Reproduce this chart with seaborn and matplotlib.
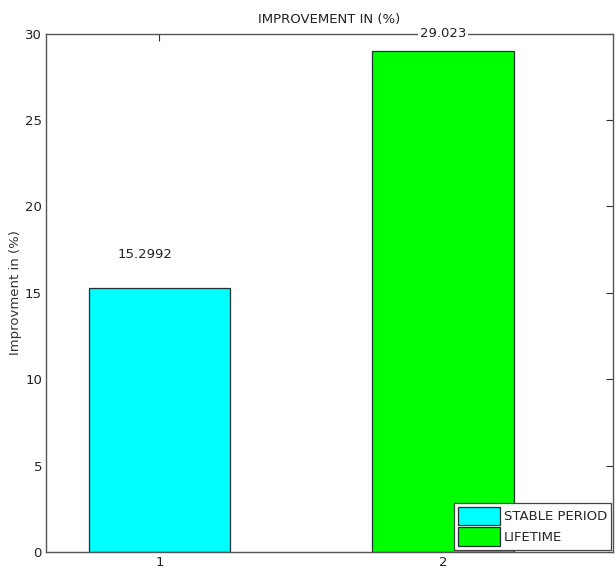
import pandas as pd
import matplotlib
matplotlib.use('Agg')
import matplotlib.pyplot as plt
import seaborn as sns

# values
positions = [1, 2]
series = ['STABLE PERIOD', 'LIFETIME']
improvement = [15.2992, 29.023]
bar_colors = ['#00ffff', '#00ff00']
y_ticks = [0, 5, 10, 15, 20, 25, 30]

df = pd.DataFrame({'pos': positions, 'series': series, 'value': improvement})

sns.set_style('white')
plt.rcParams['font.family'] = ['Liberation Sans Narrow', 'DejaVu Sans']

fig = plt.figure(figsize=(6.15, 5.72), dpi=100)
ax = fig.add_axes([0.075, 0.035, 0.9217, 0.906])

sns.barplot(data=df, x='pos', y='value', hue='series', native_scale=True,
            dodge=False, width=0.5, palette=dict(zip(series, bar_colors)),
            edgecolor='#1f3333', linewidth=0.9, saturation=1, ax=ax)

ax.set_xlim(0.6, 2.6)
ax.set_ylim(0, 30)
ax.set_xticks(positions)
ax.set_xticklabels([str(p) for p in positions])
ax.set_yticks(y_ticks)
ax.tick_params(direction='in', length=5, width=0.8, color='#333333',
               labelsize=9.5, labelcolor='#222222', top=True, right=True, pad=3)
for s in ax.spines.values():
    s.set_color('#555555')
    s.set_linewidth(1.0)

ax.set_xlabel('')
ax.set_ylabel('Improvment in (%)', fontsize=9.5, color='#333333', labelpad=2)
ax.set_title('IMPROVEMENT IN (%)', fontsize=9.5, color='#222222', pad=8)

# value labels
ax.text(0.95, 17.2, f'{improvement[0]:g}', ha='center', va='center', fontsize=9.5, color='#222222')
ax.text(2.0, 30.0, f'{improvement[1]:g}', ha='center', va='center', fontsize=9.5, color='#222222',
        bbox=dict(facecolor='white', edgecolor='none', pad=1.5), clip_on=False, zorder=5)

handles, labels = ax.get_legend_handles_labels()
leg = ax.legend(handles, labels, loc='lower right', fontsize=9.5, frameon=True, fancybox=False,
                framealpha=1, borderaxespad=0.15, handlelength=3.2, handleheight=1.8,
                handletextpad=0.3, labelspacing=0.15, borderpad=0.3)
leg.get_frame().set_edgecolor('#444444')
leg.get_frame().set_linewidth(0.9)

fig.savefig('out.png', dpi=100)
